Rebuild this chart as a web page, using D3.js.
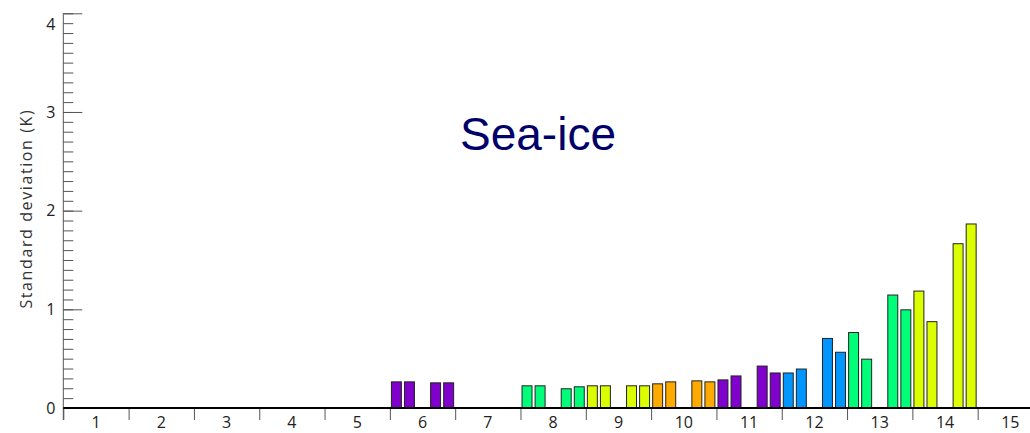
<!DOCTYPE html>
<html><head><meta charset="utf-8">
<script src="https://cdn.jsdelivr.net/npm/d3@7"></script>
<style>body{margin:0;background:#fff}svg{display:block}</style>
</head><body><svg id="c" width="1030" height="433"></svg>
<script>
const categories = ["1","2","3","4","5","6","7","8","9","10","11","12","13","14","15"];
// four bars per category: first pair (slots 1,2) and second pair (slots 4,5)
const bar1 = [null,null,null,null,null,0.27,null,0.23,0.23,0.25,0.29,0.36,0.77,1.19,null];
const bar2 = [null,null,null,null,null,0.27,null,0.23,0.23,0.27,0.33,0.40,0.50,0.88,null];
const bar3 = [null,null,null,null,null,0.26,null,0.20,0.23,0.28,0.43,0.71,1.15,1.67,null];
const bar4 = [null,null,null,null,null,0.26,null,0.22,0.23,0.27,0.36,0.57,1.00,1.87,null];
const catColors = ["#8000cc","#8000cc","#8000cc","#8000cc","#8000cc","#8000cc","#8000cc","#00ff78","#dcff00","#ffaa00","#8000cc","#0096ff","#00ff78","#dcff00","#dcff00"];
const yTicks = [0,1,2,3,4];
const title = "Sea-ice";
const yLabel = "Standard deviation (K)";

const svg = d3.select("#c");
const x0 = 63.3, x1 = 1043;
const xBand = d3.scaleBand().domain(categories).range([x0, x1]).padding(0);
const xEdge = d3.scaleLinear().domain([0, categories.length]).range([x0, x1]);
const slot = d3.scaleBand().domain([0,1,2,3,4]).range([0, xBand.bandwidth()]).paddingInner(0.16).paddingOuter(0.08);
const y = d3.scaleLinear().domain([0, 4]).range([408, 13.3]);
const font = "'Open Sans', 'DejaVu Sans', sans-serif";

// title
svg.append("text").attr("x", 538).attr("y", 150).attr("text-anchor","middle")
  .attr("font-family","'Liberation Sans', Arial, sans-serif").attr("font-size", 46)
  .attr("fill","#00006a").text(title);

// y axis label
svg.append("text").attr("transform","translate(32,"+(y(2)-2)+") rotate(-90)")
  .attr("text-anchor","middle").attr("font-family",font).attr("font-size",16)
  .attr("letter-spacing","1.6px").attr("fill","#333").text(yLabel);

// y axis minor ticks
const yMinor = d3.axisRight(y).tickValues(d3.range(0, 41).map(d => d/10)).tickSize(10).tickFormat("");
const gMinor = svg.append("g").attr("transform","translate("+x0+",0)").call(yMinor);
gMinor.select(".domain").remove();
gMinor.selectAll("line").attr("stroke","#555");
// y axis major ticks
const yMajor = d3.axisRight(y).tickValues(yTicks).tickSize(19).tickFormat("");
const gMajor = svg.append("g").attr("transform","translate("+x0+",0)").call(yMajor);
gMajor.select(".domain").remove();
gMajor.selectAll("line").attr("stroke","#555");
// y labels
const yLab = d3.axisLeft(y).tickValues(yTicks).tickSize(0).tickPadding(8).tickFormat(d3.format("d"));
const gLab = svg.append("g").attr("transform","translate("+x0+",0)").call(yLab);
gLab.select(".domain").remove();
gLab.selectAll("text").attr("font-family",font).attr("font-size",16).attr("fill","#222");
gLab.selectAll(".tick").filter(d => d === 4).select("text").attr("dy","1.0em");
// y axis line
svg.append("line").attr("x1",x0).attr("x2",x0).attr("y1",y(4)).attr("y2",420).attr("stroke","#555");

// bars
const series = [bar1, bar2, bar3, bar4];
const slots = [0,1,3,4];
series.forEach((s, si) => {
  svg.append("g").selectAll("rect")
    .data(categories.map((c, i) => ({c, v: s[i], col: catColors[i]})).filter(d => d.v != null))
    .join("rect")
    .attr("x", d => xBand(d.c) + slot(slots[si]) + 0.5)
    .attr("y", d => y(d.v) + 0.5)
    .attr("width", slot.bandwidth() - 1)
    .attr("height", d => y(0) - y(d.v))
    .attr("fill", d => d.col)
    .attr("stroke", "#222").attr("stroke-width", 1);
});

// x axis boundary ticks
const xTickAxis = d3.axisBottom(xEdge).tickValues(d3.range(0, categories.length + 1)).tickSize(12).tickFormat("");
const gx = svg.append("g").attr("transform","translate(0,408)").call(xTickAxis);
gx.select(".domain").remove();
gx.selectAll("line").attr("stroke","#555");
// x labels
const xLab = d3.axisBottom(xBand).tickSize(0).tickPadding(9);
const gxl = svg.append("g").attr("transform","translate(0,408)").call(xLab);
gxl.select(".domain").remove();
gxl.selectAll("text").attr("font-family",font).attr("font-size",16).attr("fill","#222");
// baseline
svg.append("line").attr("x1",x0).attr("x2",1030).attr("y1",y(0)).attr("y2",y(0)).attr("stroke","#000").attr("stroke-width",2);
</script></body></html>
